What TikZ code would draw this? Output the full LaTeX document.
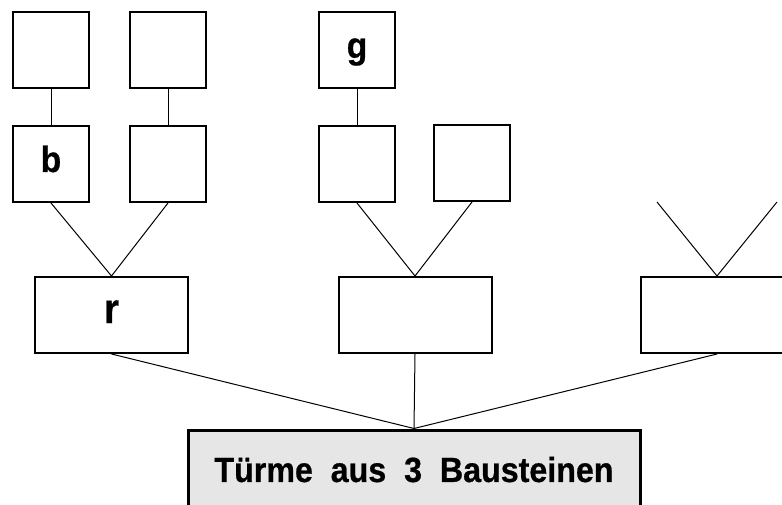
\documentclass[tikz,border=0pt]{standalone}
\usepackage{fontspec}
\setmainfont{Liberation Sans}
\newfontfamily\narrowsans[FakeStretch=0.92,FakeBold=0.6]{Liberation Sans}
\definecolor{boxgray}{HTML}{E6E6E6}
\begin{document}
\begin{tikzpicture}[x=1pt,y=-1pt,
  sq/.style={draw,line width=2pt,minimum width=76pt,minimum height=76pt,inner sep=0pt,
    font=\narrowsans\fontsize{36.5}{37}\selectfont\bfseries,text height=24pt,text depth=8pt},
  wide/.style={draw,line width=2pt,minimum width=153pt,minimum height=76pt,inner sep=0pt,
    font=\narrowsans\fontsize{42}{42}\selectfont\bfseries,text height=24pt,text depth=8pt},
  conn/.style={line width=1pt}]
\useasboundingbox (0,0) rectangle (782,505);
% top row
\node[sq] (t1) at (51,50) {};
\node[sq] (t2) at (168,50) {};
\node[sq] (t3) at (357,50) {g};
% second row
\node[sq] (s1) at (51,164) {b};
\node[sq] (s2) at (168,164) {};
\node[sq] (s3) at (357,164) {};
\node[sq] (s4) at (472,163) {};
% middle row
\node[wide] (m1) at (111.5,315) {r};
\node[wide] (m2) at (415,315) {};
\node[wide] (m3) at (717,315) {};
\coordinate (v1) at (657,202);
\coordinate (v2) at (777,202);
% bottom
\node[draw,line width=3pt,fill=boxgray,minimum width=452pt,minimum height=79pt,inner sep=0pt,
  font=\narrowsans\fontsize{35}{35}\selectfont\bfseries] (root) at (414,469.5) {Türme~~aus~~3~~Bausteinen};
% connectors
\draw[conn] (t1.south) -- (s1.north);
\draw[conn] (t2.south) -- (s2.north);
\draw[conn] (t3.south) -- (s3.north);
\draw[conn] (s1.south) -- (m1.north) -- (s2.south);
\draw[conn] (s3.south) -- (m2.north) -- (s4.south);
\draw[conn] (v1) -- (m3.north) -- (v2);
\draw[conn] (m1.south) -- (root.north);
\draw[conn] (m2.south) -- (root.north);
\draw[conn] (m3.south) -- (root.north);
\end{tikzpicture}
\end{document}
